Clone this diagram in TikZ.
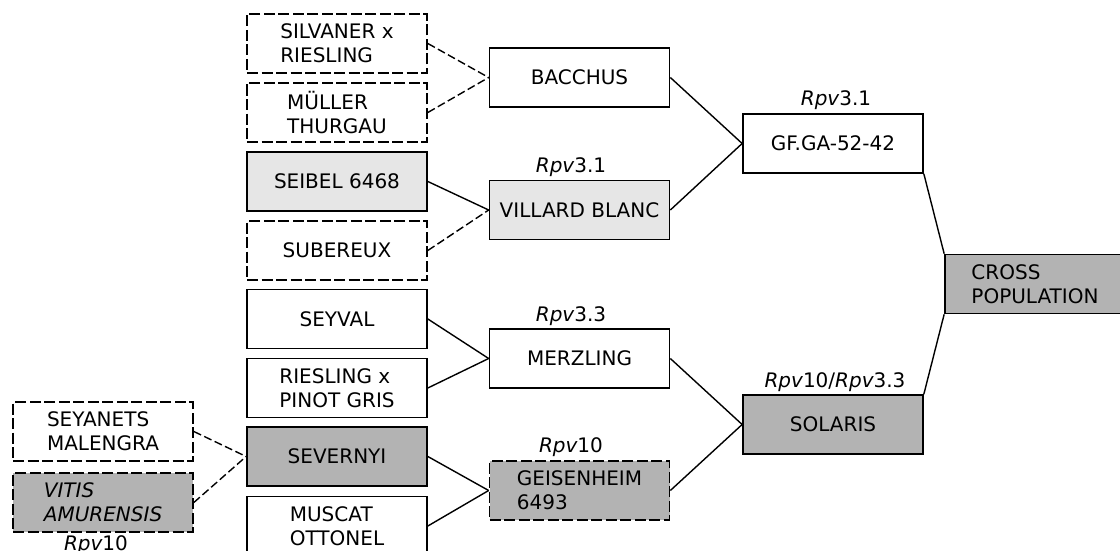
\documentclass[tikz,border=0pt]{standalone}
\usepackage{fontspec}
\setmainfont{DejaVu Sans}
\definecolor{lightfill}{HTML}{E6E6E6}
\definecolor{darkfill}{HTML}{B3B3B3}
\tikzset{
  box/.style={draw, line width=1.7pt, minimum width=180pt, minimum height=59pt, inner sep=0pt, align=left, font=\fontsize{20}{24}\selectfont},
  dbox/.style={box, dash pattern=on 11pt off 3.5pt},
  lbl/.style={font=\fontsize{20}{24}\selectfont, inner sep=0pt},
  link/.style={line width=1.4pt},
  dlink/.style={line width=1.4pt, dash pattern=on 8pt off 3.5pt},
}
\begin{document}
\begin{tikzpicture}[x=1pt,y=-1pt]
\useasboundingbox (0,0) rectangle (1120,551);
% column 1
\node[dbox] (seyanets) at (103,431.5) {SEYANETS\\MALENGRA};
\node[dbox, fill=darkfill] (vitis) at (103,502.5) {\itshape VITIS\\\itshape AMURENSIS};
% column 2
\node[dbox] (silvaner) at (337,43.5) {SILVANER x\\RIESLING};
\node[dbox] (muller) at (337,112.5) {MÜLLER\\THURGAU};
\node[box, fill=lightfill] (seibel) at (337,181.5) {SEIBEL 6468};
\node[dbox] (subereux) at (337,250.5) {SUBEREUX};
\node[box] (seyval) at (337,319) {SEYVAL};
\node[box] (rieslingpg) at (337,388) {RIESLING x\\PINOT GRIS};
\node[box, fill=darkfill] (severnyi) at (337,456.5) {SEVERNYI};
\node[box] (muscat) at (337,526) {MUSCAT\\OTTONEL};
% column 3
\node[box] (bacchus) at (579.5,77.5) {BACCHUS};
\node[box, fill=lightfill] (villard) at (579.5,210) {VILLARD BLANC};
\node[box] (merzling) at (579.5,358.5) {MERZLING};
\node[dbox, fill=darkfill] (geisenheim) at (579.5,490.5) {GEISENHEIM\\6493};
% column 4
\node[box] (gf) at (833,143.5) {GF.GA-52-42};
\node[box, fill=darkfill] (solaris) at (833,424.5) {SOLARIS};
% cross population
\node[box, fill=darkfill] (cross) at (1035,284) {CROSS\\POPULATION};
% labels
\node[lbl] (lvitis) at (96,545) {\itshape Rpv\upshape 10};
\node[lbl] (lvillard) at (571,167) {\itshape Rpv\upshape 3.1};
\node[lbl] (lmerzling) at (571,316) {\itshape Rpv\upshape 3.3};
\node[lbl] (lgeisen) at (571,447) {\itshape Rpv\upshape 10};
\node[lbl] (lgf) at (836,100) {\itshape Rpv\upshape 3.1};
\node[lbl] (lsolaris) at (835,382) {\itshape Rpv\upshape 10/\itshape Rpv\upshape 3.3};
% connectors
\draw[dlink] (silvaner.east) -- (bacchus.west);
\draw[dlink] (muller.east) -- (bacchus.west);
\draw[link] (seibel.east) -- (villard.west);
\draw[dlink] (subereux.east) -- (villard.west);
\draw[link] (seyval.east) -- (merzling.west);
\draw[link] (rieslingpg.east) -- (merzling.west);
\draw[dlink] (seyanets.east) -- (severnyi.west);
\draw[dlink] (vitis.east) -- (severnyi.west);
\draw[link] (severnyi.east) -- (geisenheim.west);
\draw[link] (muscat.east) -- (geisenheim.west);
\draw[link] (bacchus.east) -- (gf.west);
\draw[link] (villard.east) -- (gf.west);
\draw[link] (merzling.east) -- (solaris.west);
\draw[link] (geisenheim.east) -- (solaris.west);
\draw[link] (gf.south east) -- (cross.north west);
\draw[link] (solaris.north east) -- (cross.south west);
\end{tikzpicture}
\end{document}
